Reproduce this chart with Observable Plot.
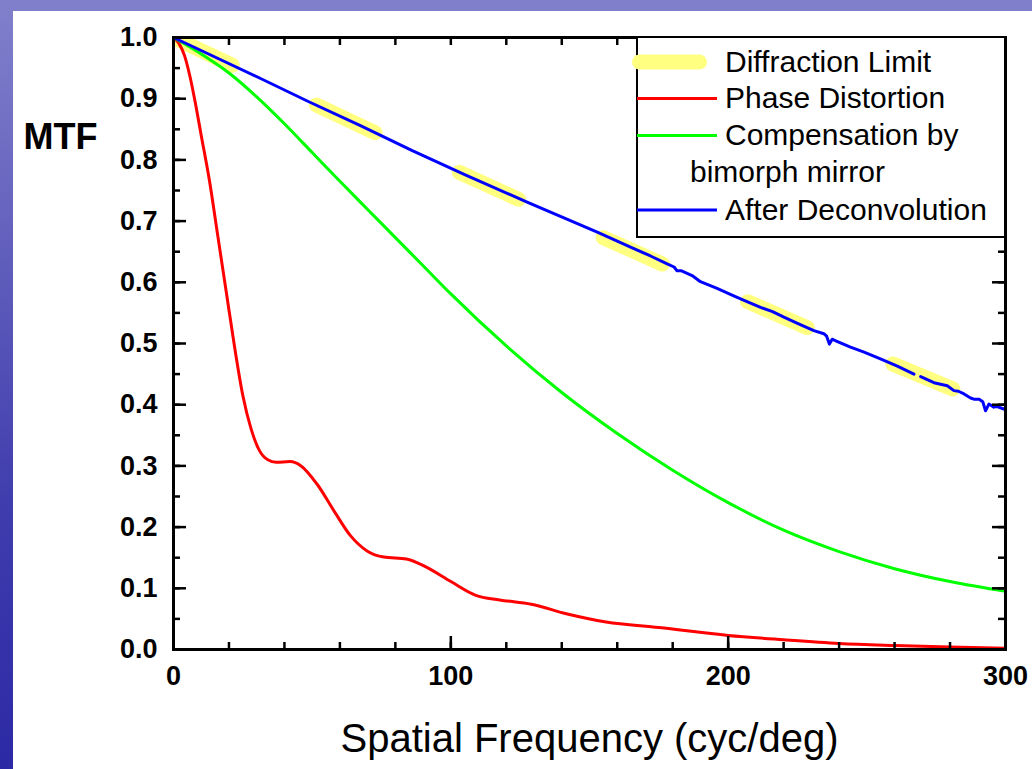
<!DOCTYPE html>
<html><head><meta charset="utf-8">
<script src="https://cdn.jsdelivr.net/npm/d3@7"></script>
<script src="https://cdn.jsdelivr.net/npm/@observablehq/plot@0.6"></script>
<style>
html,body{margin:0;padding:0;}
body{width:1032px;height:769px;overflow:hidden;position:relative;
  background:linear-gradient(to bottom,#8080cc 0%,#6462bd 30%,#403dae 65%,#2c29a5 100%);
  font-family:"Liberation Sans",Arial,sans-serif;}
#panel{position:absolute;left:13px;top:11px;right:0;bottom:0;background:#fff;}
#chart{position:absolute;left:0;top:0;}
#legend{position:absolute;left:0;top:0;}
</style></head><body>
<div id="panel"></div>
<div id="chart"></div>
<svg id="legend" width="1032" height="769"></svg>
<script>
// ---- data ----
const dlFreq = [0, 50, 100, 150, 200, 250, 300];
const dlMTF  = [1.0, 0.893, 0.786, 0.683, 0.582, 0.484, 0.39];

const phaseFreq = [0, 2, 4, 6, 8, 10, 13, 16, 19, 22, 25, 28, 31, 34, 37, 42, 46, 51.8, 57.8, 63.8, 69.8, 75.8, 84, 91, 100, 109, 117.6, 129, 142, 156, 175, 200, 220, 240, 260, 280, 300];
const phaseMTF  = [1.0, 0.99, 0.97, 0.935, 0.89, 0.84, 0.765, 0.675, 0.585, 0.495, 0.415, 0.36, 0.325, 0.31, 0.306, 0.307, 0.300, 0.270, 0.227, 0.186, 0.161, 0.151, 0.148, 0.135, 0.111, 0.0885, 0.081, 0.074, 0.058, 0.045, 0.036, 0.023, 0.016, 0.010, 0.0066, 0.004, 0.002];

const compFreq = [0, 10, 20, 30, 40, 50, 60, 70, 80, 90, 100, 120, 140, 160, 180, 200, 220, 240, 260, 280, 300];
const compMTF  = [1.0, 0.973, 0.942, 0.903, 0.859, 0.812, 0.765, 0.719, 0.673, 0.627, 0.581, 0.496, 0.420, 0.353, 0.293, 0.240, 0.195, 0.160, 0.132, 0.111, 0.095];

const deconvFreq = [0, 31.4, 48.8, 67.4, 86.1, 105, 127.5, 152.8, 165, 172, 178, 180.5, 181.5, 183, 187, 190, 196, 202, 207, 211.7, 216, 220.1, 225, 230.9, 234.5, 235.5, 236.5, 237.5, 239, 244.1, 249, 254.9, 261, 267, 268, 269.4, 274.2, 279, 281.4, 283, 284.9, 287.4, 288.6, 290.5, 291.8, 292.8, 294, 295.8, 297, 299.4, 300];
const deconvMTF  = [1.0, 0.933, 0.895, 0.856, 0.815, 0.776, 0.731, 0.682, 0.657, 0.643, 0.630, 0.625, 0.619, 0.619, 0.611, 0.601, 0.590, 0.578, 0.568, 0.559, 0.552, 0.543, 0.533, 0.521, 0.516, 0.512, 0.499, 0.507, 0.504, 0.494, 0.486, 0.475, 0.463, 0.450, null, 0.446, 0.436, 0.431, 0.423, 0.422, 0.418, 0.411, 0.409, 0.409, 0.405, 0.390, 0.401, 0.396, 0.397, 0.393, 0.393];

const xMajorTicks = [0, 100, 200, 300];
const xMinorTicks = [0, 20, 40, 60, 80, 100, 120, 140, 160, 180, 200, 220, 240, 260, 280, 300];
const yMajorTicks = [0, 0.1, 0.2, 0.3, 0.4, 0.5, 0.6, 0.7, 0.8, 0.9, 1.0];
const yMinorTicks = [0, 0.05, 0.1, 0.15, 0.2, 0.25, 0.3, 0.35, 0.4, 0.45, 0.5, 0.55, 0.6, 0.65, 0.7, 0.75, 0.8, 0.85, 0.9, 0.95, 1.0];

const xTitle = "Spatial Frequency (cyc/deg)";
const yTitle = "MTF";
const legendLabels = ["Diffraction Limit", "Phase Distortion", "Compensation by", "After Deconvolution"];
const legendExtra = "bimorph mirror";
const seriesColors = ["#ffff80", "#ff0000", "#00ff00", "#0000ff"];

// ---- build ----
const rows = (xs, ys) => xs.map((x, i) => ({x, y: ys[i]}));
const W = 1032, H = 769, mL = 173, mR = 27, mT = 37, mB = 120;
const innerW = W - mL - mR, innerH = H - mT - mB;
const FONT = '"Liberation Sans", Arial, sans-serif';
const tickStyle = {stroke: "black", strokeWidth: 2.5};

const chart = Plot.plot({
  width: W, height: H,
  marginLeft: mL, marginRight: mR, marginTop: mT, marginBottom: mB,
  style: {background: "transparent", fontFamily: FONT, overflow: "visible", color: "black"},
  x: {domain: [0, 300]},
  y: {domain: [0, 1]},
  marks: [
    Plot.line(rows(dlFreq, dlMTF), {x: "x", y: "y", stroke: seriesColors[0], strokeWidth: 15, strokeLinecap: "round", strokeDasharray: "65,93", clip: true}),
    Plot.line(rows(phaseFreq, phaseMTF), {x: "x", y: "y", stroke: seriesColors[1], strokeWidth: 3, curve: "monotone-x"}),
    Plot.line(rows(compFreq, compMTF), {x: "x", y: "y", stroke: seriesColors[2], strokeWidth: 3, curve: "monotone-x"}),
    Plot.line(rows(deconvFreq, deconvMTF), {x: "x", y: "y", stroke: seriesColors[3], strokeWidth: 3}),
    // inward ticks on all four sides
    Plot.tickX(xMinorTicks, {x: d => d, insetTop: innerH - 7, ...tickStyle}),
    Plot.tickX(xMajorTicks, {x: d => d, insetTop: innerH - 13, ...tickStyle}),
    Plot.tickX(xMinorTicks, {x: d => d, insetBottom: innerH - 8, ...tickStyle}),
    Plot.tickY(yMinorTicks, {y: d => d, insetRight: innerW - 7, ...tickStyle}),
    Plot.tickY(yMajorTicks, {y: d => d, insetRight: innerW - 13, ...tickStyle}),
    Plot.tickY(yMinorTicks, {y: d => d, insetLeft: innerW - 7, ...tickStyle}),
    Plot.tickY(yMajorTicks, {y: d => d, insetLeft: innerW - 13, ...tickStyle}),
    Plot.frame({stroke: "black", strokeWidth: 3}),
    Plot.axisX(xMajorTicks, {tickSize: 0, tickPadding: 16, fontSize: 27, fontWeight: "bold", label: null, tickFormat: d => String(d)}),
    Plot.axisY(yMajorTicks, {tickSize: 0, tickPadding: 16, fontSize: 27, fontWeight: "bold", label: null, tickFormat: d3.format(".1f")}),
    Plot.text([xTitle], {text: d => d, frameAnchor: "bottom", dy: 90, fontSize: 40, lineAnchor: "middle", fill: "black"}),
    Plot.text([yTitle], {text: d => d, frameAnchor: "top-left", dx: -150, dy: 100, fontSize: 36, fontWeight: "bold", textAnchor: "start", lineAnchor: "middle", fill: "black"})
  ]
});
document.getElementById("chart").appendChild(chart);

// ---- legend ----
const lg = d3.select("#legend").style("font-family", FONT);
lg.append("rect").attr("x", 637).attr("y", 37).attr("width", 368).attr("height", 200)
  .attr("fill", "white").attr("stroke", "black").attr("stroke-width", 2);
const sw = [
  {x1: 639.5, x2: 699.5, y: 62, w: 15},
  {x1: 637, x2: 717, y: 98.5, w: 3},
  {x1: 637, x2: 717, y: 135.5, w: 3},
  {x1: 637, x2: 717, y: 210, w: 3}
];
const baselines = [71.7, 108.3, 145, 220];
sw.forEach((s, i) => {
  lg.append("line").attr("x1", s.x1).attr("x2", s.x2).attr("y1", s.y).attr("y2", s.y)
    .attr("stroke", seriesColors[i]).attr("stroke-width", s.w).attr("stroke-linecap", i === 0 ? "round" : "butt");
  lg.append("text").attr("x", 725).attr("y", baselines[i]).attr("font-size", 30).attr("fill", "black").text(legendLabels[i]);
});
lg.append("text").attr("x", 690).attr("y", 181.7).attr("font-size", 30).attr("fill", "black").text(legendExtra);
</script>
</body></html>
